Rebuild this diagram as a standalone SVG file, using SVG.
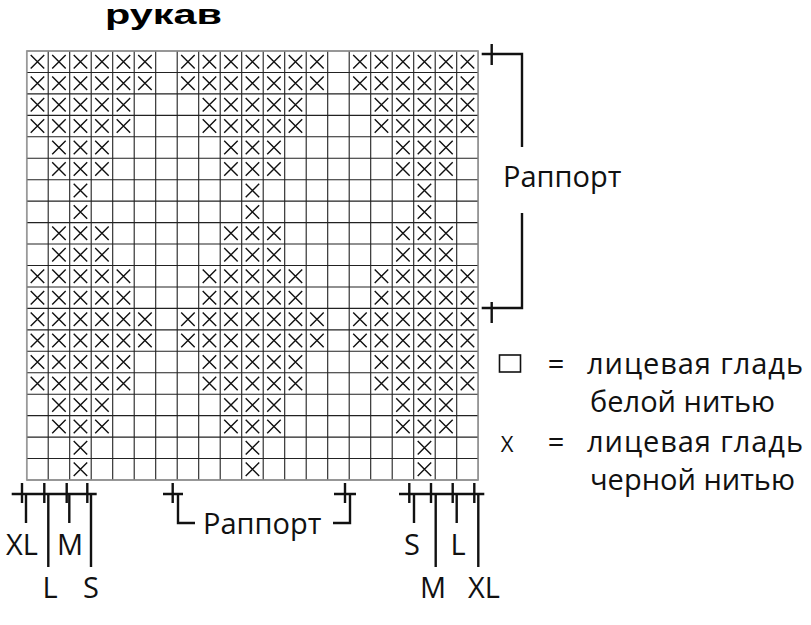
<svg xmlns="http://www.w3.org/2000/svg" xmlns:xlink="http://www.w3.org/1999/xlink" width="811" height="625" viewBox="0 0 811 625">
<style>
.t{font-family:"Open Sans","DejaVu Sans",sans-serif;fill:#111;font-size:29px}
.ln{stroke:#111;stroke-width:2.4;fill:none}
.gr{stroke:#222;stroke-width:1.1;fill:none}
.xm{stroke:#111;stroke-width:1.4;fill:none}
</style>
<defs>
<path id="x" class="xm" d="M4,4L17.5,17.5M17.5,4L4,17.5"/>
<g id="w3"><use href="#x" x="26.7"/><use href="#x" x="48.2"/><use href="#x" x="69.7"/><use href="#x" x="91.2"/><use href="#x" x="112.7"/><use href="#x" x="134.2"/><use href="#x" x="177.2"/><use href="#x" x="198.7"/><use href="#x" x="220.2"/><use href="#x" x="241.7"/><use href="#x" x="263.2"/><use href="#x" x="284.7"/><use href="#x" x="306.2"/><use href="#x" x="349.2"/><use href="#x" x="370.7"/><use href="#x" x="392.2"/><use href="#x" x="413.7"/><use href="#x" x="435.2"/><use href="#x" x="456.7"/></g>
<g id="w2"><use href="#x" x="26.7"/><use href="#x" x="48.2"/><use href="#x" x="69.7"/><use href="#x" x="91.2"/><use href="#x" x="112.7"/><use href="#x" x="198.7"/><use href="#x" x="220.2"/><use href="#x" x="241.7"/><use href="#x" x="263.2"/><use href="#x" x="284.7"/><use href="#x" x="370.7"/><use href="#x" x="392.2"/><use href="#x" x="413.7"/><use href="#x" x="435.2"/><use href="#x" x="456.7"/></g>
<g id="w1"><use href="#x" x="48.2"/><use href="#x" x="69.7"/><use href="#x" x="91.2"/><use href="#x" x="220.2"/><use href="#x" x="241.7"/><use href="#x" x="263.2"/><use href="#x" x="392.2"/><use href="#x" x="413.7"/><use href="#x" x="435.2"/></g>
<g id="w0"><use href="#x" x="69.7"/><use href="#x" x="241.7"/><use href="#x" x="413.7"/></g>
</defs>
<rect width="811" height="625" fill="#fff"/>
<text x="105" y="24" style="font-family:'Liberation Sans',Arial,sans-serif;font-weight:bold;font-size:28px" textLength="117" lengthAdjust="spacingAndGlyphs">рукав</text>
<g id="chart">
<path class="gr" d="M26.7,51V480M48.2,51V480M69.7,51V480M91.2,51V480M112.7,51V480M134.2,51V480M155.7,51V480M177.2,51V480M198.7,51V480M220.2,51V480M241.7,51V480M263.2,51V480M284.7,51V480M306.2,51V480M327.7,51V480M349.2,51V480M370.7,51V480M392.2,51V480M413.7,51V480M435.2,51V480M456.7,51V480M478.2,51V480M26.7,51H478.2M26.7,72.45H478.2M26.7,93.9H478.2M26.7,115.35H478.2M26.7,136.8H478.2M26.7,158.25H478.2M26.7,179.7H478.2M26.7,201.15H478.2M26.7,222.6H478.2M26.7,244.05H478.2M26.7,265.5H478.2M26.7,286.95H478.2M26.7,308.4H478.2M26.7,329.85H478.2M26.7,351.3H478.2M26.7,372.75H478.2M26.7,394.2H478.2M26.7,415.65H478.2M26.7,437.1H478.2M26.7,458.55H478.2M26.7,480H478.2"/>
<rect x="26.7" y="51" width="451.5" height="429" fill="none" stroke="#999" stroke-width="1.5"/>
<use href="#w3" y="51"/><use href="#w3" y="72.45"/>
<use href="#w2" y="93.9"/><use href="#w2" y="115.35"/>
<use href="#w1" y="136.8"/><use href="#w1" y="158.25"/>
<use href="#w0" y="179.7"/><use href="#w0" y="201.15"/>
<use href="#w1" y="222.6"/><use href="#w1" y="244.05"/>
<use href="#w2" y="265.5"/><use href="#w2" y="286.95"/>
<use href="#w3" y="308.4"/><use href="#w3" y="329.85"/>
<use href="#w2" y="351.3"/><use href="#w2" y="372.75"/>
<use href="#w1" y="394.2"/><use href="#w1" y="415.65"/>
<use href="#w0" y="437.1"/><use href="#w0" y="458.55"/>
</g>
<g id="connectors">
<path class="ln" d="M491.7,44V65M481.7,54H522V147M522,213V308H481.7M491.7,302V323"/>
<path class="ln" d="M11.7,494H96.7M22,483V503M44.3,483V503M66.7,483V503M87.3,483V503M26,494V523M48.3,494V567M69.3,494V523M91,494V567"/>
<path class="ln" d="M163,494H183M172.7,483V503M178,494V523H195M334,494H356M345,483V503M350,494V523H333"/>
<path class="ln" d="M399,494H484.3M409.3,483V503M431,483V503M452.7,483V503M474.3,483V503M414,494V523M435.7,494V567M456.7,494V523M478.3,494V567"/>
</g>
<g id="labels">
<text class="t" x="503" y="187">Раппорт</text>
<text class="t" x="203" y="534">Раппорт</text>
<text class="t" x="22" y="555" text-anchor="middle">XL</text>
<text class="t" x="70" y="555" text-anchor="middle">M</text>
<text class="t" x="50" y="598" text-anchor="middle">L</text>
<text class="t" x="91" y="598" text-anchor="middle">S</text>
<text class="t" x="412" y="555" text-anchor="middle">S</text>
<text class="t" x="458" y="555" text-anchor="middle">L</text>
<text class="t" x="433" y="598" text-anchor="middle">M</text>
<text class="t" x="484" y="598" text-anchor="middle">XL</text>
</g>
<g id="legend">
<rect x="499.5" y="355" width="21" height="17" fill="none" stroke="#111" stroke-width="1.6"/>
<text class="t" x="556" y="374" text-anchor="middle">=</text>
<text class="t" x="587" y="374" textLength="216">лицевая гладь</text>
<text class="t" x="590" y="412">белой нитью</text>
<text class="t" x="507" y="452" text-anchor="middle" style="font-size:22px">X</text>
<text class="t" x="556" y="452" text-anchor="middle">=</text>
<text class="t" x="587" y="452" textLength="216">лицевая гладь</text>
<text class="t" x="590" y="490">черной нитью</text>
</g>
</svg>
